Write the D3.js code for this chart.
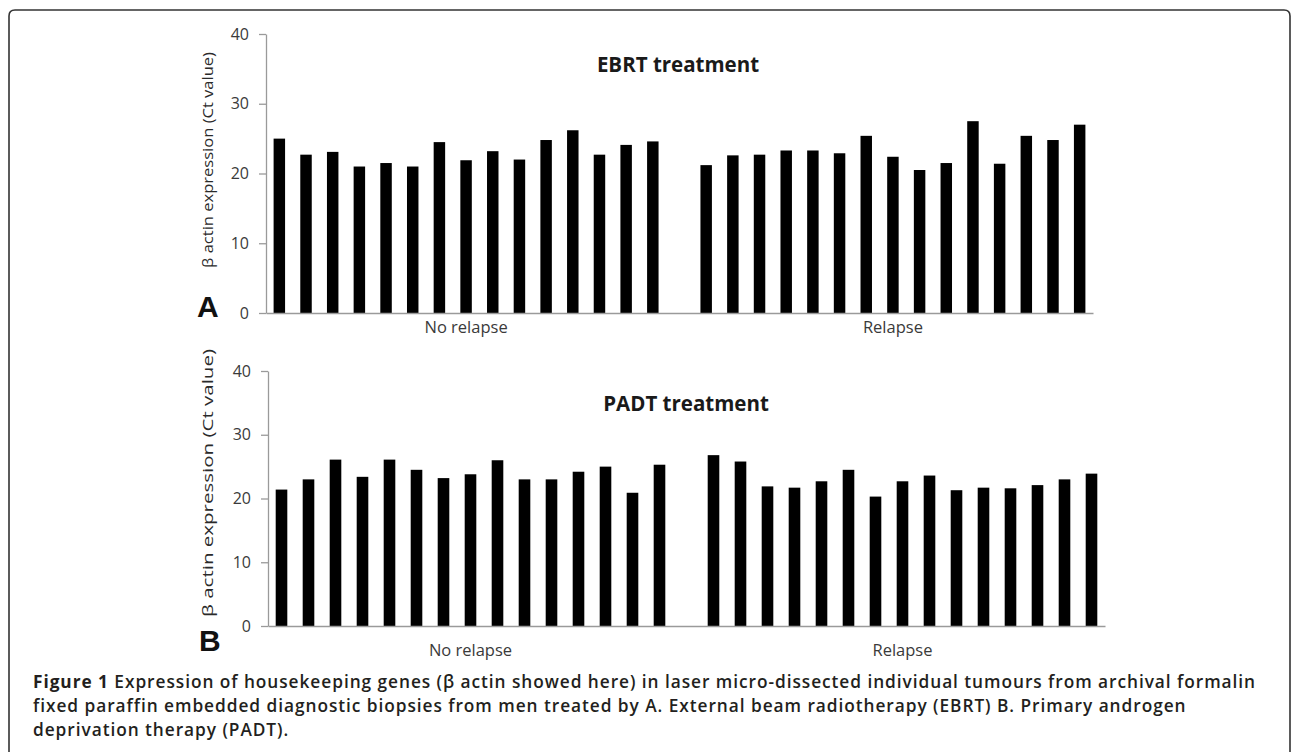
<!DOCTYPE html>
<html>
<head>
<meta charset="utf-8">
<script src="https://cdn.jsdelivr.net/npm/d3@7"></script>
<style>
  html, body { margin: 0; padding: 0; background: #fff; }
  svg { display: block; }
</style>
</head>
<body>
<svg id="chart" width="1292" height="754"></svg>
<script>
// ---- data ----
const groupLabels = ["No relapse", "Relapse"];
const yTicks = [0, 10, 20, 30, 40];
const ebrtNoRelapse = [25.0, 22.7, 23.1, 21.0, 21.5, 21.0, 24.5, 21.9, 23.2, 22.0, 24.8, 26.2, 22.7, 24.1, 24.6];
const ebrtRelapse   = [21.2, 22.6, 22.7, 23.3, 23.3, 22.9, 25.4, 22.4, 20.5, 21.5, 27.5, 21.4, 25.4, 24.8, 27.0];
const padtNoRelapse = [21.4, 23.0, 26.1, 23.4, 26.1, 24.5, 23.2, 23.8, 26.0, 23.0, 23.0, 24.2, 25.0, 20.9, 25.3];
const padtRelapse   = [26.8, 25.8, 21.9, 21.7, 22.7, 24.5, 20.3, 22.7, 23.6, 21.3, 21.7, 21.6, 22.1, 23.0, 23.9];
const panelTitles = ["EBRT treatment", "PADT treatment"];
const panelLetters = ["A", "B"];
const yLabel = "β actin expression (Ct value)";
const captionBold = "Figure 1";
const captionLines = [
  " Expression of housekeeping genes (β actin showed here) in laser micro-dissected individual tumours from archival formalin",
  "fixed paraffin embedded diagnostic biopsies from men treated by A. External beam radiotherapy (EBRT) B. Primary androgen",
  "deprivation therapy (PADT)."
];

const svg = d3.select("#chart");
const FONT = "'Open Sans', sans-serif";

// border frame with rounded corners
svg.append("path")
  .attr("d", "M9,752 L9,16 Q9,10 15,10 L1284,10 Q1290,10 1290,16 L1290,752")
  .attr("fill", "none").attr("stroke", "#333").attr("stroke-width", 1.6);

function buildCats(nr, r) {
  const cats = [];
  nr.forEach((v, i) => cats.push({ id: "NR" + (i + 1), value: v, group: 0 }));
  cats.push({ id: "gap", value: null, group: -1 });
  r.forEach((v, i) => cats.push({ id: "R" + (i + 1), value: v, group: 1 }));
  return cats;
}

const panels = [
  { cats: buildCats(ebrtNoRelapse, ebrtRelapse), x0: 266, x1: 1093, y0: 313, y1: 34,
    title: panelTitles[0], titleX: 678, titleY: 72, letter: panelLetters[0], letterX: 197, letterY: 317,
    labelX: 213, labelY: 160, labelLen: 216, groupY: 333 },
  { cats: buildCats(padtNoRelapse, padtRelapse), x0: 268, x1: 1105, y0: 626, y1: 371,
    title: panelTitles[1], titleX: 686, titleY: 411, letter: panelLetters[1], letterX: 199, letterY: 651,
    labelX: 213, labelY: 483, labelLen: 268, groupY: 656 }
];

panels.forEach(p => {
  const g = svg.append("g");
  const x = d3.scaleBand().domain(p.cats.map(d => d.id)).range([p.x0, p.x1])
    .paddingInner(0.57).paddingOuter(0.285);
  const y = d3.scaleLinear().domain([0, 40]).range([p.y0, p.y1]);

  // bars
  g.selectAll("rect.bar").data(p.cats.filter(d => d.value !== null)).join("rect")
    .attr("class", "bar")
    .attr("x", d => x(d.id)).attr("width", x.bandwidth())
    .attr("y", d => y(d.value)).attr("height", d => y(0) - y(d.value))
    .attr("fill", "#000");

  // y axis
  const ya = g.append("g").attr("transform", `translate(${p.x0},0)`)
    .call(d3.axisLeft(y).tickValues(yTicks).tickSize(7).tickPadding(10).tickSizeOuter(0));
  ya.selectAll("path, line").attr("stroke", "#9a9a9a").attr("stroke-width", 1.3);
  ya.selectAll("text").attr("font-family", FONT).attr("font-size", 16).attr("fill", "#3a3a3a");

  // x axis baseline
  const xa = g.append("g").attr("transform", `translate(0,${p.y0})`)
    .call(d3.axisBottom(x).tickSize(0).tickFormat("").tickSizeOuter(0));
  xa.select("path").attr("stroke", "#9a9a9a").attr("stroke-width", 1.3);

  // group labels
  [0, 1].forEach(gi => {
    const ids = p.cats.filter(d => d.group === gi).map(d => d.id);
    const cx = (x(ids[0]) + x(ids[ids.length - 1]) + x.bandwidth()) / 2;
    g.append("text").attr("x", cx).attr("y", p.groupY)
      .attr("text-anchor", "middle").attr("font-family", FONT)
      .attr("font-size", 16.5).attr("fill", "#3a3a3a").text(groupLabels[gi]);
  });

  // title
  g.append("text").attr("x", p.titleX).attr("y", p.titleY).attr("text-anchor", "middle")
    .attr("font-family", FONT).attr("font-weight", "bold").attr("font-size", 20.5)
    .attr("fill", "#1a1a1a").text(p.title);

  // y label
  g.append("text").attr("transform", `translate(${p.labelX},${p.labelY}) rotate(-90)`)
    .attr("text-anchor", "middle").attr("font-family", FONT)
    .attr("font-size", 14.5).attr("fill", "#2a2a2a")
    .attr("textLength", p.labelLen).attr("lengthAdjust", "spacingAndGlyphs")
    .text(yLabel);

  // panel letter
  g.append("text").attr("x", p.letterX).attr("y", p.letterY)
    .attr("font-family", "'Liberation Sans', Arial, sans-serif").attr("font-weight", "bold")
    .attr("font-size", 30).attr("fill", "#111").text(p.letter);
});

// caption
const cap = svg.append("g").attr("font-family", FONT).attr("fill", "#231f20");
const baselines = [688, 712, 736];
const fs = 17.3;
const line1 = cap.append("text").attr("x", 33).attr("y", baselines[0]).attr("font-size", fs);
line1.append("tspan").attr("font-weight", 700).text(captionBold);
line1.append("tspan").attr("font-weight", 600).text(captionLines[0]);
// spread letters slightly so the first line spans ~1223 px like the reference
const natural = line1.node().getComputedTextLength();
const nChars = (captionBold + captionLines[0]).length;
const ls = Math.max(0, (1223 - natural) / nChars);
line1.attr("letter-spacing", ls);
cap.append("text").attr("x", 33).attr("y", baselines[1]).attr("font-size", fs)
  .attr("letter-spacing", ls).attr("font-weight", 600).text(captionLines[1]);
cap.append("text").attr("x", 33).attr("y", baselines[2]).attr("font-size", fs)
  .attr("letter-spacing", ls).attr("font-weight", 600).text(captionLines[2]);
</script>
</body>
</html>
